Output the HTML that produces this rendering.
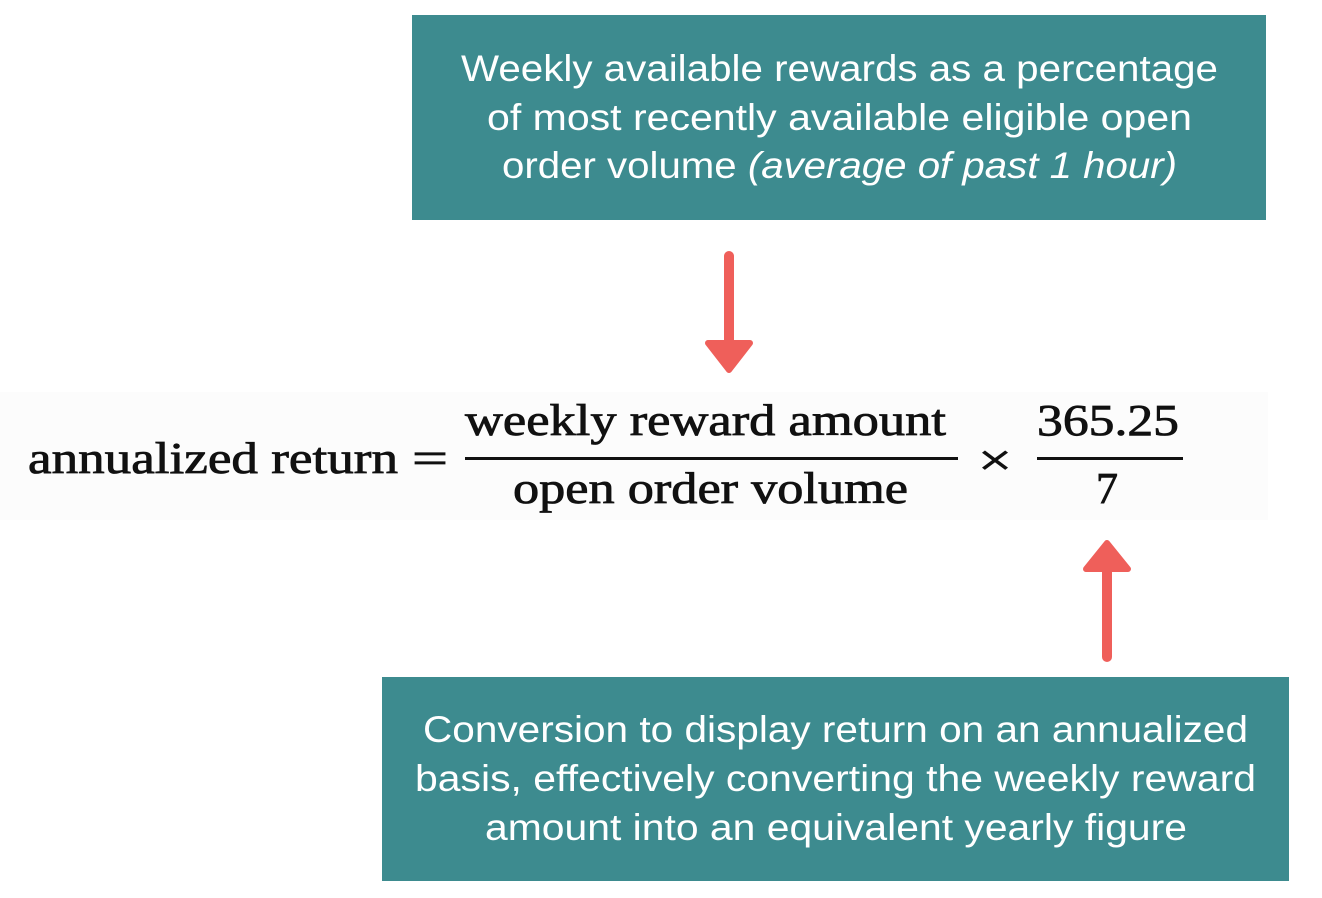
<!DOCTYPE html>
<html><head><meta charset="utf-8"><style>
html,body{margin:0;padding:0;background:#fff;width:1322px;height:898px;overflow:hidden}
</style></head><body>
<svg width="1322" height="898" viewBox="0 0 1322 898" xmlns="http://www.w3.org/2000/svg">
<rect x="0" y="392" width="1268" height="128" fill="#fcfcfc"/>
<rect x="412" y="15" width="854" height="205" fill="#3d8b8f"/>
<rect x="382" y="677" width="907" height="204" fill="#3d8b8f"/>
<g font-family="Liberation Sans, sans-serif" font-size="37" fill="#fff">
<text x="461" y="81" textLength="757" lengthAdjust="spacingAndGlyphs">Weekly available rewards as a percentage</text>
<text x="487" y="130" textLength="705" lengthAdjust="spacingAndGlyphs">of most recently available eligible open</text>
<text x="502" y="178" textLength="675" lengthAdjust="spacingAndGlyphs">order volume <tspan font-style="italic">(average of past 1 hour)</tspan></text>
<text x="423" y="742" textLength="825" lengthAdjust="spacingAndGlyphs">Conversion to display return on an annualized</text>
<text x="415" y="791" textLength="841" lengthAdjust="spacingAndGlyphs">basis, effectively converting the weekly reward</text>
<text x="485" y="840" textLength="702" lengthAdjust="spacingAndGlyphs">amount into an equivalent yearly figure</text>
</g>
<g font-family="Liberation Serif, serif" font-size="44" fill="#111" stroke="#111" stroke-width="0.8">
<text x="28" y="473" textLength="370" lengthAdjust="spacingAndGlyphs">annualized return</text>
<text x="412" y="473" textLength="36" lengthAdjust="spacingAndGlyphs">=</text>
<text x="465" y="435" textLength="481" lengthAdjust="spacingAndGlyphs">weekly reward amount</text>
<text x="513" y="503" textLength="395" lengthAdjust="spacingAndGlyphs">open order volume</text>
<text x="978" y="475" textLength="34" lengthAdjust="spacingAndGlyphs">×</text>
<text x="1037" y="435" textLength="142" lengthAdjust="spacingAndGlyphs">365.25</text>
<text x="1096" y="503" textLength="22" lengthAdjust="spacingAndGlyphs">7</text>
</g>
<rect x="465" y="457" width="493" height="3" fill="#111"/>
<rect x="1037" y="457" width="146" height="3" fill="#111"/>
<g fill="#ef5f5a" stroke="#ef5f5a" stroke-linejoin="round" stroke-linecap="round">
<line x1="729" y1="256" x2="729" y2="345" stroke-width="10"/>
<polygon points="708,343 750,343 729,370" stroke-width="6"/>
<line x1="1107" y1="570" x2="1107" y2="657" stroke-width="10"/>
<polygon points="1086,569 1128,569 1107,543" stroke-width="6"/>
</g>
</svg>
</body></html>
